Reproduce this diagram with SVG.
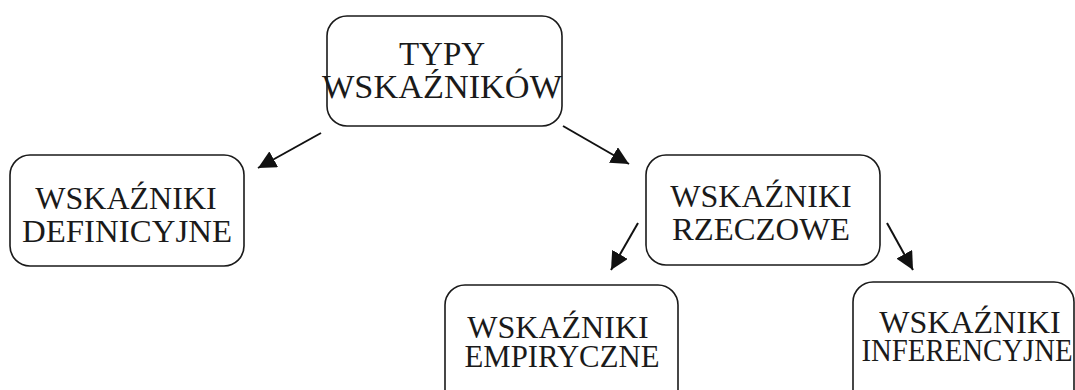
<svg xmlns="http://www.w3.org/2000/svg" width="1075" height="390" viewBox="0 0 1075 390">
<style>
.box{fill:#fff;stroke:#1a1a1a;stroke-width:1.6}
.t{font-family:"Liberation Serif","Times New Roman",serif;font-size:32px;fill:#1a1a1a;text-anchor:middle}
.c{stroke:#111;stroke-width:2;fill:none}
</style>
<defs>
<marker id="ah" viewBox="0 0 10 10" refX="10" refY="5" markerWidth="18" markerHeight="18" markerUnits="userSpaceOnUse" orient="auto">
<path d="M0,0 L10,5 L0,10 z" fill="#111"/>
</marker>
</defs>
<rect width="1075" height="390" fill="#fff"/>
<g id="typy">
<rect class="box" x="327" y="16" width="235" height="110" rx="20"/>
<text class="t" x="442" y="65" style="font-size:33px">TYPY</text>
<text class="t" x="442" y="98" style="font-size:33px" textLength="240" lengthAdjust="spacingAndGlyphs">WSKAŹNIKÓW</text>
</g>
<g id="definicyjne">
<rect class="box" x="10" y="155" width="234" height="111" rx="20"/>
<text class="t" x="126" y="209">WSKAŹNIKI</text>
<text class="t" x="127" y="242" textLength="210" lengthAdjust="spacingAndGlyphs">DEFINICYJNE</text>
</g>
<g id="rzeczowe">
<rect class="box" x="646" y="155" width="234" height="110" rx="20"/>
<text class="t" x="761" y="207">WSKAŹNIKI</text>
<text class="t" x="761" y="240" textLength="178" lengthAdjust="spacingAndGlyphs">RZECZOWE</text>
</g>
<g id="empiryczne">
<rect class="box" x="445" y="285" width="233" height="130" rx="20"/>
<text class="t" x="558" y="338">WSKAŹNIKI</text>
<text class="t" x="562" y="367" textLength="195" lengthAdjust="spacingAndGlyphs">EMPIRYCZNE</text>
</g>
<g id="inferencyjne">
<rect class="box" x="853" y="282" width="221" height="130" rx="20"/>
<text class="t" x="970" y="333">WSKAŹNIKI</text>
<text class="t" x="967" y="361" textLength="211" lengthAdjust="spacingAndGlyphs">INFERENCYJNE</text>
</g>
<g id="connectors">
<line class="c" x1="321" y1="133" x2="258" y2="168" marker-end="url(#ah)"/>
<line class="c" x1="563" y1="126" x2="629" y2="164" marker-end="url(#ah)"/>
<line class="c" x1="638" y1="223" x2="611" y2="270" marker-end="url(#ah)"/>
<line class="c" x1="887" y1="223" x2="913" y2="270" marker-end="url(#ah)"/>
</g>
</svg>
